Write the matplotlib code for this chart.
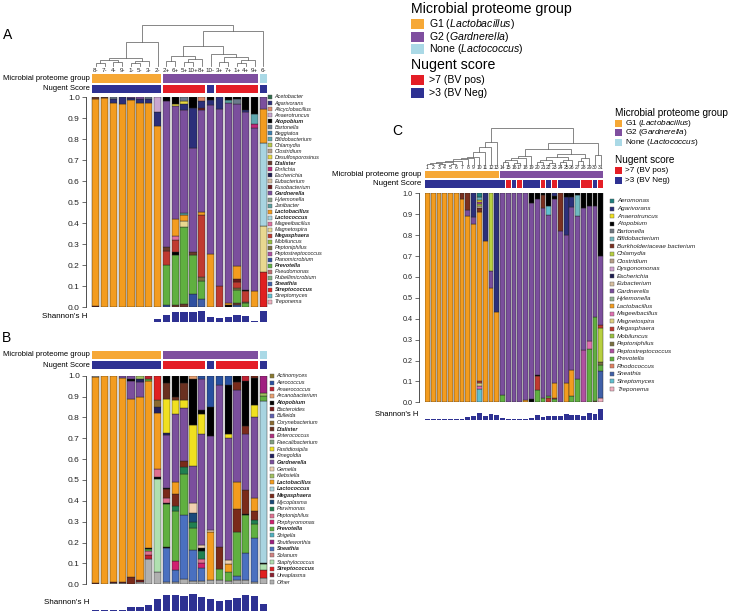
import matplotlib
matplotlib.use("Agg")
import matplotlib.pyplot as plt
from matplotlib.patches import Rectangle

plt.rcParams['font.family'] = ['Liberation Sans', 'DejaVu Sans']
plt.rcParams['mathtext.fontset'] = 'custom'
plt.rcParams['mathtext.rm'] = 'Liberation Sans'
plt.rcParams['mathtext.it'] = 'Liberation Sans:italic'

# ------------------------------------------------------------------ data
group_colors = {"G1": "#F6A836", "G2": "#7F4F9F", "None": "#AAD9E6"}
nugent_colors = {"pos": "#E41E26", "neg": "#2E3192"}

# ---------------- panel A
a_samples = ["8-", "7-", "4-", "9-", "1-", "5-", "3-", "2-", "2+", "6+", "5+", "10+", "8+",
             "10-", "3+", "7+", "1+", "4+", "9+", "6-"]
a_group = ["G1", "G1", "G1", "G1", "G1", "G1", "G1", "G1", "G2", "G2", "G2", "G2", "G2",
           "G2", "G2", "G2", "G2", "G2", "G2", "None"]
a_nugent = ["neg", "neg", "neg", "neg", "neg", "neg", "neg", "neg", "pos", "pos", "pos", "pos", "pos",
            "neg", "pos", "pos", "pos", "pos", "pos", "neg"]
a_shannon = [0.04, 0.04, 0.06, 0.1, 0.1, 0.1, 0.1, 0.6, 1.46, 2.06, 1.94, 1.94, 2.26,
             1.0, 0.86, 1.06, 1.34, 1.2, 0.2, 2.26]
a_taxa = ["Acetobacter", "Agarivorans", "Alicyclobacillus", "Anaerotruncus", "Atopobium",
          "Bartonella", "Beggiatoa", "Bifidobacterium", "Chlamydia", "Clostridium",
          "Desulfosporosinus", "Dialister", "Ehrlichia", "Escherichia", "Eubacterium",
          "Fusobacterium", "Gardnerella", "Hylemonella", "Janibacter", "Lactobacillus",
          "Lactococcus", "Mageeibacillus", "Magnetospira", "Megasphaera", "Mobiluncus",
          "Peptoniphilus", "Peptostreptococcus", "Planomicrobium", "Prevotella", "Pseudomonas",
          "Rubellimicrobium", "Sneathia", "Streptococcus", "Streptomyces", "Treponema"]
a_taxa_colors = ["#2E6B4A", "#2B2F7A", "#E08A6A", "#C9A6D0", "#000000",
                 "#6B7B8C", "#3C7FB0", "#5FA8B0", "#B8C84A", "#B8A088",
                 "#E8D840", "#6B3A2A", "#C0287A", "#1C1C50", "#D8C0A0",
                 "#6A1A1A", "#7B4F9D", "#8AA08A", "#5AA0A0", "#F39C1F",
                 "#A8D4E0", "#E070A0", "#E8D890", "#C03A30", "#98C040",
                 "#7A7040", "#B050A0", "#3050A0", "#60B040", "#C07070",
                 "#80B080", "#4060A8", "#E02020", "#60C0D0", "#F0B0C0"]
a_bold = ["Atopobium", "Dialister", "Gardnerella", "Lactobacillus", "Lactococcus",
          "Megasphaera", "Prevotella", "Sneathia", "Streptococcus"]
# (taxon, cumulative upper bound) bottom -> top
a_composition = [
    [("Fusobacterium", 0.005), ("Lactobacillus", 0.99), ("Dialister", 1.0)],
    [("Lactobacillus", 0.995), ("Dialister", 1.0)],
    [("Lactobacillus", 0.975), ("Agarivorans", 0.99), ("Bartonella", 1.0)],
    [("Lactobacillus", 0.97), ("Agarivorans", 1.0)],
    [("Lactobacillus", 0.985), ("Agarivorans", 0.995), ("Gardnerella", 1.0)],
    [("Lactobacillus", 0.975), ("Agarivorans", 0.99), ("Gardnerella", 1.0)],
    [("Lactobacillus", 0.975), ("Agarivorans", 0.99), ("Bartonella", 1.0)],
    [("Lactobacillus", 0.865), ("Agarivorans", 0.93), ("Anaerotruncus", 1.0)],
    [("Planomicrobium", 0.01), ("Prevotella", 0.2), ("Megasphaera", 0.265), ("Dialister", 0.285),
     ("Gardnerella", 0.98), ("Atopobium", 1.0)],
    [("Dialister", 0.01), ("Prevotella", 0.25), ("Atopobium", 0.26), ("Megasphaera", 0.32),
     ("Mageeibacillus", 0.34), ("Lactobacillus", 0.42), ("Gardnerella", 0.96),
     ("Desulfosporosinus", 0.97), ("Atopobium", 1.0)],
    [("Dialister", 0.015), ("Prevotella", 0.38), ("Magnetospira", 0.41), ("Lactobacillus", 0.44),
     ("Janibacter", 0.45), ("Gardnerella", 0.94), ("Agarivorans", 0.97),
     ("Desulfosporosinus", 0.98), ("Bartonella", 1.0)],
    [("Planomicrobium", 0.06), ("Prevotella", 0.25), ("Dialister", 0.26), ("Gardnerella", 0.76),
     ("Agarivorans", 0.95), ("Atopobium", 1.0)],
    [("Sneathia", 0.04), ("Prevotella", 0.125), ("Peptoniphilus", 0.145), ("Megasphaera", 0.44),
     ("Lactobacillus", 0.455), ("Gardnerella", 0.94), ("Fusobacterium", 0.95),
     ("Agarivorans", 0.98), ("Alicyclobacillus", 1.0)],
    [("Lactobacillus", 0.255), ("Gardnerella", 0.965), ("Agarivorans", 0.985), ("Atopobium", 1.0)],
    [("Megasphaera", 0.1), ("Gardnerella", 0.945), ("Agarivorans", 1.0)],
    [("Atopobium", 0.01), ("Lactobacillus", 0.02), ("Gardnerella", 0.975), ("Janibacter", 0.985),
     ("Atopobium", 1.0)],
    [("Sneathia", 0.01), ("Dialister", 0.02), ("Prevotella", 0.08), ("Peptoniphilus", 0.09),
     ("Megasphaera", 0.12), ("Fusobacterium", 0.135), ("Lactobacillus", 0.195),
     ("Gardnerella", 0.97), ("Bartonella", 0.99), ("Atopobium", 1.0)],
    [("Prevotella", 0.02), ("Peptoniphilus", 0.025), ("Megasphaera", 0.075), ("Atopobium", 0.08),
     ("Gardnerella", 0.93), ("Agarivorans", 0.94), ("Atopobium", 1.0)],
    [("Lactobacillus", 0.075), ("Gardnerella", 0.855), ("Ehrlichia", 0.875),
     ("Bifidobacterium", 0.92), ("Atopobium", 1.0)],
    [("Streptococcus", 0.165), ("Magnetospira", 0.385), ("Lactococcus", 0.78),
     ("Lactobacillus", 0.945), ("Gardnerella", 1.0)],
]
# dendrogram merges: (left, right, height); new clusters numbered from len(samples)
a_merges = [(0, 1, 3), (2, 3, 4), (20, 21, 6), (4, 5, 3), (23, 6, 5), (22, 24, 8), (25, 7, 24.3),
            (8, 9, 5), (10, 11, 4), (28, 12, 7), (27, 29, 10), (14, 15, 4), (16, 17, 3),
            (32, 18, 6), (31, 33, 9), (13, 34, 12), (30, 35, 20), (36, 19, 36.3), (26, 37, 42)]

# ---------------- panel B
b_group = a_group
b_nugent = a_nugent
b_shannon = [0.06, 0.06, 0.06, 0.1, 0.74, 0.74, 1.14, 2.4, 3.14, 3.14, 2.94, 3.26, 2.66,
             2.26, 1.86, 2.14, 2.46, 3.06, 2.86, 1.4]
b_taxa = ["Actinomyces", "Aerococcus", "Anaerococcus", "Arcanobacterium", "Atopobium",
          "Bacteroides", "Bulleida", "Corynebacterium", "Dialister", "Enterococcus",
          "Faecalibacterium", "Fastidiosipila", "Finegoldia", "Gardnerella", "Gemella",
          "Klebsiella", "Lactobacillus", "Lactococcus", "Megasphaera", "Mycoplasma",
          "Parvimonas", "Peptoniphilus", "Porphyromonas", "Prevotella", "Shigella",
          "Shuttleworthia", "Sneathia", "Solanum", "Staphylococcus", "Streptococcus",
          "Ureaplasma", "Other"]
b_taxa_colors = ["#8A7A30", "#2850A0", "#C02030", "#E8A070", "#000000",
                 "#7A1A1A", "#6060B0", "#8A6A30", "#6A3020", "#B03080",
                 "#80A080", "#F0E020", "#202060", "#7B4F9D", "#F0D0B0",
                 "#A0C060", "#F39C1F", "#A8D4E0", "#7A2A1A", "#1A4A7A",
                 "#208050", "#E07090", "#D02070", "#60B040", "#50B0C0",
                 "#A02080", "#4A70C0", "#D08080", "#B0E0B0", "#E02020",
                 "#8A2030", "#B0B0B0"]
b_bold = ["Atopobium", "Dialister", "Gardnerella", "Lactobacillus", "Lactococcus",
          "Megasphaera", "Prevotella", "Sneathia", "Streptococcus"]
b_composition = [
    [("Megasphaera", 0.005), ("Lactobacillus", 0.995), ("Other", 1.0)],
    [("Lactobacillus", 1.0)],
    [("Other", 0.005), ("Bacteroides", 0.01), ("Lactobacillus", 1.0)],
    [("Other", 0.005), ("Bacteroides", 0.01), ("Lactobacillus", 0.99), ("Gardnerella", 1.0)],
    [("Megasphaera", 0.035), ("Lactobacillus", 0.89), ("Gardnerella", 0.975), ("Atopobium", 0.985),
     ("Gardnerella", 1.0)],
    [("Other", 0.01), ("Bacteroides", 0.02), ("Lactobacillus", 0.9), ("Gardnerella", 0.97),
     ("Finegoldia", 0.985), ("Klebsiella", 1.0)],
    [("Other", 0.12), ("Anaerococcus", 0.14), ("Peptoniphilus", 0.16), ("Prevotella", 0.17),
     ("Atopobium", 0.175), ("Lactobacillus", 0.975), ("Prevotella", 0.985), ("Anaerococcus", 1.0)],
    [("Other", 0.06), ("Staphylococcus", 0.505), ("Atopobium", 0.515), ("Peptoniphilus", 0.555),
     ("Lactobacillus", 0.82), ("Finegoldia", 0.85), ("Corynebacterium", 0.885),
     ("Streptococcus", 1.0)],
    [("Other", 0.01), ("Sneathia", 0.175), ("Atopobium", 0.18), ("Prevotella", 0.385),
     ("Atopobium", 0.39), ("Peptoniphilus", 0.415), ("Megasphaera", 0.455), ("Atopobium", 0.46),
     ("Gardnerella", 0.715), ("Finegoldia", 0.725), ("Fastidiosipila", 0.89), ("Dialister", 0.965),
     ("Atopobium", 1.0)],
    [("Other", 0.01), ("Sneathia", 0.07), ("Porphyromonas", 0.11), ("Prevotella", 0.35),
     ("Parvimonas", 0.375), ("Megasphaera", 0.435), ("Lactobacillus", 0.49), ("Gardnerella", 0.815),
     ("Fastidiosipila", 0.885), ("Dialister", 0.9), ("Atopobium", 1.0)],
    [("Other", 0.025), ("Sneathia", 0.33), ("Prevotella", 0.53), ("Parvimonas", 0.56),
     ("Megasphaera", 0.59), ("Gardnerella", 0.845), ("Fastidiosipila", 0.885), ("Dialister", 0.965),
     ("Atopobium", 1.0)],
    [("Other", 0.015), ("Sneathia", 0.165), ("Prevotella", 0.27), ("Parvimonas", 0.3),
     ("Mycoplasma", 0.34), ("Gemella", 0.39), ("Gardnerella", 0.565), ("Fastidiosipila", 0.765),
     ("Atopobium", 0.985), ("Arcanobacterium", 1.0)],
    [("Other", 0.015), ("Sneathia", 0.08), ("Porphyromonas", 0.1), ("Peptoniphilus", 0.12),
     ("Parvimonas", 0.16), ("Atopobium", 0.175), ("Gemella", 0.19), ("Gardnerella", 0.72),
     ("Fastidiosipila", 0.815), ("Atopobium", 0.835), ("Gardnerella", 0.985), ("Aerococcus", 1.0)],
    [("Other", 0.02), ("Lactobacillus", 0.25), ("Gemella", 0.26), ("Gardnerella", 0.71),
     ("Atopobium", 0.85), ("Aerococcus", 1.0)],
    [("Other", 0.02), ("Prevotella", 0.075), ("Megasphaera", 0.18), ("Gardnerella", 0.955),
     ("Aerococcus", 1.0)],
    [("Other", 0.015), ("Prevotella", 0.06), ("Lactobacillus", 0.095), ("Gemella", 0.115),
     ("Gardnerella", 0.7), ("Fastidiosipila", 0.72), ("Atopobium", 0.955), ("Aerococcus", 1.0)],
    [("Other", 0.02), ("Sneathia", 0.04), ("Prevotella", 0.25), ("Megasphaera", 0.36),
     ("Lactobacillus", 0.49), ("Gardnerella", 0.93), ("Megasphaera", 0.97), ("Atopobium", 1.0)],
    [("Other", 0.02), ("Sneathia", 0.15), ("Prevotella", 0.33), ("Atopobium", 0.335),
     ("Megasphaera", 0.45), ("Gardnerella", 0.72), ("Megasphaera", 0.76), ("Atopobium", 0.975),
     ("Anaerococcus", 1.0)],
    [("Other", 0.01), ("Sneathia", 0.22), ("Prevotella", 0.29), ("Parvimonas", 0.31),
     ("Megasphaera", 0.35), ("Lactobacillus", 0.415), ("Gardnerella", 0.8), ("Fastidiosipila", 0.86),
     ("Atopobium", 0.99), ("Megasphaera", 1.0)],
    [("Other", 0.03), ("Streptococcus", 0.07), ("Staphylococcus", 0.095), ("Atopobium", 0.1),
     ("Lactococcus", 0.88), ("Prevotella", 0.905), ("Klebsiella", 0.915), ("Shuttleworthia", 1.0)],
]

# ---------------- panel C
c_samples = [str(k) for k in range(1, 32)]
c_group = ["G1", "G1", "G1", "G1", "G1", "G1", "G1", "G1", "G1", "G1", "G1", "G1", "G1",
           "G2", "G2", "G2", "G2", "G2", "G2", "G2", "G2", "G2", "G2", "G2", "G2", "G2",
           "G2", "G2", "G2", "G2", "G2"]
c_nugent = ["neg", "neg", "neg", "neg", "neg", "neg", "neg", "neg", "neg", "neg", "neg", "neg", "neg",
            "neg", "pos", "neg", "pos", "neg", "neg", "neg", "pos", "neg", "pos", "neg", "neg", "neg",
            "neg", "pos", "pos", "neg", "pos"]
c_shannon = [0.06, 0.06, 0.06, 0.06, 0.06, 0.06, 0.14, 0.54, 0.74, 1.26, 0.74, 1.06, 0.94,
             0.34, 0.06, 0.06, 0.06, 0.06, 0.34, 0.86, 0.46, 0.74, 0.74, 0.74, 1.06, 1.0,
             0.94, 0.8, 1.26, 1.14, 2.06]
c_taxa = ["Aeromonas", "Agarivorans", "Anaerotruncus", "Atopobium", "Bartonella",
          "Bifidobacterium", "Burkholderiaceae bacterium", "Chlamydia", "Clostridium",
          "Dysgonomonas", "Escherichia", "Eubacterium", "Gardnerella", "Hylemonella",
          "Lactobacillus", "Mageeibacillus", "Magnetospira", "Megasphaera", "Mobiluncus",
          "Peptoniphilus", "Peptostreptococcus", "Prevotella", "Rhodococcus", "Sneathia",
          "Streptomyces", "Treponema"]
c_taxa_colors = ["#208080", "#2B2F7A", "#F0E020", "#000000", "#707880",
                 "#70B8C0", "#7A3020", "#B8D040", "#B8A088",
                 "#D0A0D0", "#1C1C50", "#D8C0A0", "#7B4F9D", "#90B090",
                 "#F39C1F", "#E070B0", "#E0D080", "#C03A30", "#98C040",
                 "#7A7040", "#B050A0", "#60B040", "#E08060", "#4060A8",
                 "#60C0D0", "#F0B0C0"]
c_composition = [
    [("Lactobacillus", 1.0)],
    [("Lactobacillus", 1.0)],
    [("Lactobacillus", 1.0)],
    [("Lactobacillus", 1.0)],
    [("Lactobacillus", 1.0)],
    [("Lactobacillus", 1.0)],
    [("Lactobacillus", 0.975), ("Burkholderiaceae bacterium", 1.0)],
    [("Lactobacillus", 0.89), ("Gardnerella", 0.92), ("Burkholderiaceae bacterium", 1.0)],
    [("Lactobacillus", 0.855), ("Gardnerella", 0.885), ("Agarivorans", 1.0)],
    [("Streptomyces", 0.065), ("Mageeibacillus", 0.08), ("Magnetospira", 0.09), ("Megasphaera", 0.1),
     ("Lactobacillus", 0.91), ("Burkholderiaceae bacterium", 0.93), ("Eubacterium", 0.94),
     ("Chlamydia", 0.95), ("Peptostreptococcus", 0.96), ("Anaerotruncus", 0.97),
     ("Bifidobacterium", 0.98), ("Aeromonas", 1.0)],
    [("Lactobacillus", 0.77), ("Agarivorans", 1.0)],
    [("Lactobacillus", 0.545), ("Gardnerella", 0.63), ("Chlamydia", 1.0)],
    [("Lactobacillus", 0.43), ("Agarivorans", 1.0)],
    [("Prevotella", 0.035), ("Gardnerella", 1.0)],
    [("Gardnerella", 1.0)],
    [("Gardnerella", 1.0)],
    [("Gardnerella", 1.0)],
    [("Lactobacillus", 0.01), ("Gardnerella", 1.0)],
    [("Atopobium", 0.015), ("Gardnerella", 0.955), ("Atopobium", 1.0)],
    [("Prevotella", 0.06), ("Megasphaera", 0.125), ("Atopobium", 0.13), ("Gardnerella", 0.975),
     ("Atopobium", 1.0)],
    [("Prevotella", 0.02), ("Gardnerella", 0.93), ("Burkholderiaceae bacterium", 0.99),
     ("Atopobium", 1.0)],
    [("Megasphaera", 0.02), ("Prevotella", 0.03), ("Gardnerella", 0.895), ("Streptomyces", 0.94),
     ("Atopobium", 1.0)],
    [("Prevotella", 0.015), ("Megasphaera", 0.02), ("Lactobacillus", 0.09), ("Gardnerella", 0.975),
     ("Atopobium", 0.985), ("Agarivorans", 1.0)],
    [("Gardnerella", 0.82), ("Burkholderiaceae bacterium", 1.0)],
    [("Lactobacillus", 0.09), ("Gardnerella", 0.8), ("Agarivorans", 0.98), ("Atopobium", 1.0)],
    [("Prevotella", 0.03), ("Lactobacillus", 0.155), ("Gardnerella", 0.935), ("Agarivorans", 0.98),
     ("Atopobium", 1.0)],
    [("Prevotella", 0.11), ("Gardnerella", 0.89), ("Bifidobacterium", 0.99), ("Atopobium", 1.0)],
    [("Peptostreptococcus", 0.25), ("Gardnerella", 0.93), ("Atopobium", 1.0)],
    [("Prevotella", 0.255), ("Mageeibacillus", 0.295), ("Gardnerella", 0.94), ("Atopobium", 1.0)],
    [("Peptoniphilus", 0.005), ("Prevotella", 0.41), ("Gardnerella", 0.94), ("Atopobium", 1.0)],
    [("Treponema", 0.02), ("Sneathia", 0.15), ("Prevotella", 0.18), ("Peptoniphilus", 0.195),
     ("Chlamydia", 0.355), ("Megasphaera", 0.37), ("Gardnerella", 0.7), ("Atopobium", 1.0)],
]
c_merges = [(0, 1, 1.5), (2, 3, 1.5), (31, 32, 2.5), (4, 5, 1.5), (33, 34, 3), (35, 6, 4.5),
            (36, 7, 6), (37, 8, 7), (38, 9, 8.3), (39, 10, 13.3), (40, 11, 17.7), (41, 12, 22.7),
            (13, 14, 3), (15, 16, 2), (43, 44, 5), (45, 17, 7), (46, 18, 9), (19, 20, 3),
            (21, 22, 2), (48, 49, 5), (23, 24, 3), (51, 25, 5), (50, 52, 8), (26, 27, 4),
            (54, 28, 7), (53, 55, 11), (47, 56, 16), (29, 30, 10), (57, 58, 22), (42, 59, 36.7)]

# ------------------------------------------------------------------ layout helpers
W, H = 733, 614
fig = plt.figure(figsize=(W / 100, H / 100), dpi=100)


def rect(x0, y0, x1, y1):
    return [x0 / W, 1 - y1 / H, (x1 - x0) / W, (y1 - y0) / H]


ov = fig.add_axes([0, 0, 1, 1])
ov.set_xlim(0, W)
ov.set_ylim(H, 0)
ov.axis('off')

BW = 0.83


def stacked(geom, comps, taxa, colors, tick_fs):
    n = len(comps)
    x0, step, ytop, ybot = geom['x0'], geom['step'], geom['ytop'], geom['ybot']
    ax = fig.add_axes(rect(x0, ytop, x0 + n * step, ybot))
    ax.set_facecolor('none')
    cmap = dict(zip(taxa, colors))
    for i, comp in enumerate(comps):
        bottom = 0.0
        for taxon, top in comp:
            ax.bar(i, top - bottom, bottom=bottom, width=BW, color=cmap[taxon],
                   edgecolor='#222222', linewidth=0.3)
            bottom = top
    ax.set_xlim(-0.5, n - 0.5)
    ax.set_ylim(0, 1)
    for s in ['top', 'right', 'bottom']:
        ax.spines[s].set_visible(False)
    ax.spines['left'].set_position(('outward', geom['out']))
    ax.spines['left'].set_bounds(0, 1)
    ax.spines['left'].set_linewidth(0.6)
    ax.spines['left'].set_color('#333333')
    ax.set_xticks([])
    ax.set_yticks([k / 10 for k in range(11)])
    ax.set_yticklabels(["%.1f" % (k / 10) for k in range(11)], fontsize=tick_fs, color='#222222')
    ax.tick_params(axis='y', length=2.8, width=0.5, pad=1.5, color='#333333')
    return ax


def runs_row(geom, values, cmap, y0, y1):
    n = len(values)
    x0, step = geom['x0'], geom['step']
    ax = fig.add_axes(rect(x0, y0, x0 + n * step, y1))
    ax.set_xlim(-0.5, n - 0.5)
    ax.set_ylim(0, 1)
    ax.axis('off')
    start = 0
    for i in range(1, n + 1):
        if i == n or values[i] != values[start]:
            ax.add_patch(Rectangle((start - BW / 2, 0), (i - 1 - start) + BW, 1,
                                   facecolor=cmap[values[start]], edgecolor='none'))
            start = i
    return ax


def shannon_row(geom, vals, ybase, hmax, px_per_unit):
    n = len(vals)
    x0, step = geom['x0'], geom['step']
    ax = fig.add_axes(rect(x0, ybase - hmax * px_per_unit, x0 + n * step, ybase))
    ax.set_facecolor('none')
    ax.bar(range(n), vals, width=BW, color='#2E3192', edgecolor='none')
    ax.set_xlim(-0.5, n - 0.5)
    ax.set_ylim(0, hmax)
    ax.axis('off')


def dendro(geom, merges, n, ytop, ybase, hmax, labels, label_y, fs):
    x0, step = geom['x0'], geom['step']
    ax = fig.add_axes(rect(x0, ytop, x0 + n * step, ybase))
    ax.set_xlim(-0.5, n - 0.5)
    ax.set_ylim(0, hmax)
    ax.axis('off')
    xs = list(range(n))
    hs = [0.0] * n
    for a, b, h in merges:
        ax.plot([xs[a], xs[a], xs[b], xs[b]], [hs[a], h, h, hs[b]], color='#666666',
                lw=0.55, clip_on=False, solid_joinstyle='miter')
        xs.append((xs[a] + xs[b]) / 2)
        hs.append(h)
    for i, lab in enumerate(labels):
        ov.text(x0 + (i + 0.5) * step, label_y, lab, fontsize=fs, ha='center', va='center',
                color='#222222')


def taxa_legend(x, ytop, ybot, taxa, colors, bold, fs, sq):
    n = len(taxa)
    for i, (t, c) in enumerate(zip(taxa, colors)):
        y = ytop + i * (ybot - ytop) / (n - 1)
        ov.add_patch(Rectangle((x, y - sq / 2), sq, sq, facecolor=c, edgecolor='#555555',
                               linewidth=0.3))
        ov.text(x + sq + 3, y, t, fontsize=fs, style='italic',
                weight='bold' if t in bold else 'normal', va='center', ha='left', color='#222222')


def group_legend(x, ys, fs_title, fs, pw, ph, gap):
    # ys: title1, g1, g2, none, title2, pos, neg
    ov.text(x, ys[0], "Microbial proteome group", fontsize=fs_title, va='center', ha='left')
    entries = [("G1", r"G1 ($\mathit{Lactobacillus}$)"), ("G2", r"G2 ($\mathit{Gardnerella}$)"),
               ("None", r"None ($\mathit{Lactococcus}$)")]
    for (key, lab), y in zip(entries, ys[1:4]):
        ov.add_patch(Rectangle((x, y - ph / 2), pw, ph, facecolor=group_colors[key], edgecolor='none'))
        ov.text(x + pw + gap, y, lab, fontsize=fs, va='center', ha='left')
    ov.text(x, ys[4], "Nugent score", fontsize=fs_title, va='center', ha='left')
    for (key, lab), y in zip([("pos", ">7 (BV pos)"), ("neg", ">3 (BV Neg)")], ys[5:7]):
        ov.add_patch(Rectangle((x, y - ph / 2), pw, ph, facecolor=nugent_colors[key], edgecolor='none'))
        ov.text(x + pw + gap, y, lab, fontsize=fs, va='center', ha='left')


# ------------------------------------------------------------------ panel A
gA = dict(x0=91.3, step=8.83, ytop=97.3, ybot=307, out=4)
stacked(gA, a_composition, a_taxa, a_taxa_colors, 6)
runs_row(gA, a_group, group_colors, 74, 82.5)
runs_row(gA, a_nugent, nugent_colors, 85, 93)
shannon_row(gA, a_shannon, 322, 2.4, 5.0)
dendro(gA, a_merges, 20, 25, 66, 42, a_samples, 70, 4.5)
taxa_legend(267.5, 97, 302, a_taxa, a_taxa_colors, a_bold, 4.0, 4)
ov.text(90, 78.2, "Microbial proteome group", fontsize=5.5, ha='right', va='center')
ov.text(90, 89, "Nugent Score", fontsize=5.5, ha='right', va='center')
ov.text(88, 316.5, "Shannon's H", fontsize=5.8, ha='right', va='center')
ov.text(3, 35, "A", fontsize=10, ha='left', va='center')

# ------------------------------------------------------------------ panel B
gB = dict(x0=91.3, step=8.83, ytop=375.7, ybot=584.3, out=4)
stacked(gB, b_composition, b_taxa, b_taxa_colors, 6)
runs_row(gB, b_group, group_colors, 350.7, 359.3)
runs_row(gB, b_nugent, nugent_colors, 361, 369.3)
shannon_row(gB, b_shannon, 610.7, 3.4, 5.0)
taxa_legend(269.5, 376, 582, b_taxa, b_taxa_colors, b_bold, 4.0, 4)
ov.text(90, 355, "Microbial proteome group", fontsize=5.5, ha='right', va='center')
ov.text(90, 365.2, "Nugent Score", fontsize=5.5, ha='right', va='center')
ov.text(90, 602, "Shannon's H", fontsize=5.8, ha='right', va='center')
ov.text(2, 338, "B", fontsize=10, ha='left', va='center')

# ------------------------------------------------------------------ panel C
gC = dict(x0=424.5, step=5.78, ytop=193.3, ybot=402.3, out=4)
stacked(gC, c_composition, c_taxa, c_taxa_colors, 5.2)
runs_row(gC, c_group, group_colors, 170.7, 178.3)
runs_row(gC, c_nugent, nugent_colors, 179.7, 187.7)
shannon_row(gC, c_shannon, 419.7, 2.2, 5.0)
dendro(gC, c_merges, 31, 128.3, 165, 36.7, c_samples, 167.3, 3.6)
taxa_legend(610, 201, 389, c_taxa, c_taxa_colors, [], 4.5, 4)
ov.text(421.5, 174.5, "Microbial proteome group", fontsize=5.7, ha='right', va='center')
ov.text(421.5, 183.7, "Nugent Score", fontsize=5.7, ha='right', va='center')
ov.text(418, 415, "Shannon's H", fontsize=5.5, ha='right', va='center')
ov.text(392, 131, "C", fontsize=10, ha='left', va='center')

# ------------------------------------------------------------------ group legends
group_legend(411, [8.5, 24, 36.5, 49, 65.5, 80, 93], 10.2, 7.6, 13, 10, 5)
group_legend(615, [112.7, 123.3, 132.8, 142.6, 160, 170, 180], 7.2, 5.9, 7, 7, 3)

fig.savefig("out.png", dpi=100)
